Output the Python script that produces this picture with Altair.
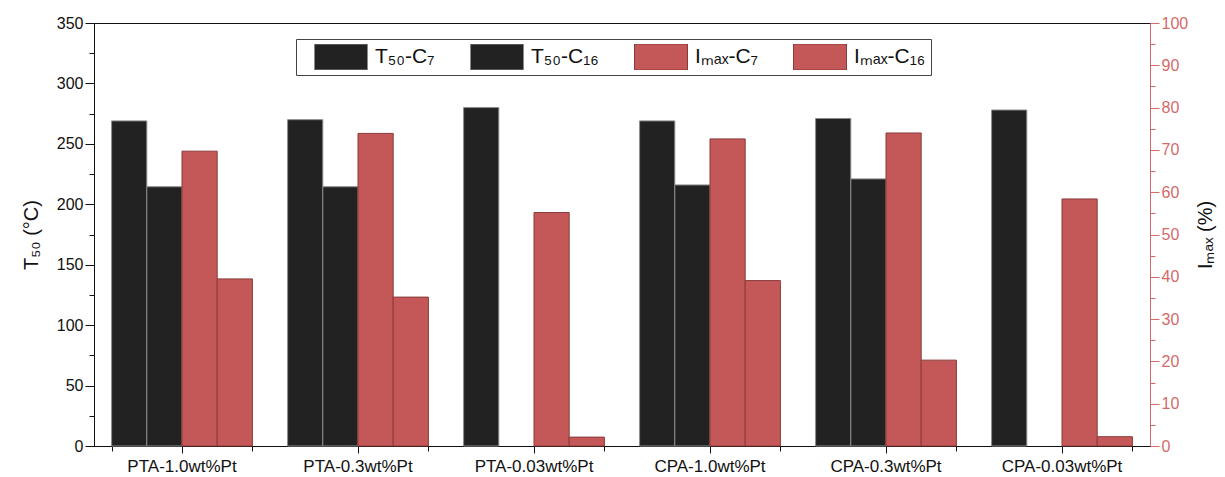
import altair as alt
import pandas as pd

categories = ["PTA-1.0wt%Pt", "PTA-0.3wt%Pt", "PTA-0.03wt%Pt",
              "CPA-1.0wt%Pt", "CPA-0.3wt%Pt", "CPA-0.03wt%Pt"]
series_names = ["T₅₀-C₇", "T₅₀-C₁₆", "Iₘₐₓ-C₇", "Iₘₐₓ-C₁₆"]

t50_c7 = [269, 270, 280, 269, 271, 278]
t50_c16 = [214.5, 214.5, None, 216, 221, None]
imax_c7 = [69.7, 73.9, 55.2, 72.6, 74.0, 58.4]
imax_c16 = [39.5, 35.2, 2.1, 39.1, 20.3, 2.2]

rows = []
for vals, name, grp in [(t50_c7, series_names[0], "T50"), (t50_c16, series_names[1], "T50"),
                        (imax_c7, series_names[2], "Imax"), (imax_c16, series_names[3], "Imax")]:
    for c, v in zip(categories, vals):
        if v is not None:
            rows.append({"cat": c, "series": name, "value": v, "grp": grp})
df = pd.DataFrame(rows)

BLACK = "#222222"
RED = "#c45858"
RED_AX = "#d46a6a"

legend = alt.Legend(
    orient="none", legendX=202, legendY=16, direction="horizontal", columns=4,
    title=None, symbolType="M-1,-0.49H1V0.49H-1Z", symbolSize=2809, clipHeight=26,
    symbolOffset=13, labelOffset=7, columnPadding=22, padding=5,
    strokeColor="#444", fillColor="white", labelFontSize=21, labelFont="Liberation Sans",
    labelColor="#111", symbolStrokeWidth=1, symbolOpacity=1,
)

fill = alt.Fill("series:N", scale=alt.Scale(domain=series_names, range=[BLACK, BLACK, RED, RED]),
                legend=legend)
stroke = alt.Stroke("series:N", scale=alt.Scale(domain=series_names,
                    range=["#8a8a8a", "#8a8a8a", "#8a3a3a", "#8a3a3a"]), legend=legend)
xoff = alt.XOffset("series:N", sort=series_names,
                   scale=alt.Scale(domain=series_names, paddingInner=0, paddingOuter=0))

xscale = alt.Scale(domain=categories, paddingInner=0.2, paddingOuter=0.1)

t50 = alt.Chart(df).transform_filter("datum.grp == 'T50'").mark_bar(strokeWidth=1, opacity=1).encode(
    x=alt.X("cat:N", sort=categories, scale=xscale,
            axis=alt.Axis(title=None, labelAngle=0, tickSize=7, labelPadding=5, labelFontSize=17,
                          labelColor="#111", domainColor="#111", tickColor="#111", grid=False)),
    xOffset=xoff,
    y=alt.Y("value:Q", scale=alt.Scale(domain=[0, 350], nice=False),
            axis=alt.Axis(orient="left", values=list(range(0, 351, 25)),
                          labelExpr="datum.value % 50 == 0 ? datum.label : ''",
                          tickSize={"condition": {"test": "datum.value % 50 != 0", "value": 5}, "value": 9},
                          labelFontSize=16, labelColor="#111", domainColor="#111", tickColor="#111",
                          grid=False, title="T₅₀ (°C)", titleFontSize=20, titleFontWeight="normal",
                          titleColor="#111", titlePadding=15)),
    fill=fill,
    stroke=stroke,
)

imax = alt.Chart(df).transform_filter("datum.grp == 'Imax'").mark_bar(strokeWidth=1, opacity=1).encode(
    x=alt.X("cat:N", sort=categories, scale=xscale,
            axis=alt.Axis(orient="bottom", title=None, labels=False, tickBand="extent", tickSize=5,
                          domainColor="#111", tickColor="#111", grid=False)),
    xOffset=xoff,
    y=alt.Y("value:Q", scale=alt.Scale(domain=[0, 100], nice=False),
            axis=alt.Axis(orient="right", values=list(range(0, 101, 5)),
                          labelExpr="datum.value % 10 == 0 ? datum.label : ''",
                          tickSize={"condition": {"test": "datum.value % 10 != 0", "value": 5}, "value": 9},
                          labelFontSize=16, labelColor=RED_AX, domainColor=RED_AX, tickColor=RED_AX,
                          grid=False, title="Iₘₐₓ (%)", titleFontSize=20, titleFontWeight="normal",
                          titleColor="#111", titleAngle=270, titlePadding=28)),
    fill=fill,
    stroke=stroke,
)

chart = alt.layer(t50, imax).resolve_scale(y="independent").resolve_axis(x="independent").properties(
    width=1056, height=423,
    autosize=alt.AutoSizeParams(type="none"),
    padding={"left": 94, "top": 23, "right": 75, "bottom": 31},
).configure(font="Liberation Sans").configure_view(stroke="#111", strokeWidth=1)

chart.save("out.html", embed_options={"renderer": "svg", "actions": False})
